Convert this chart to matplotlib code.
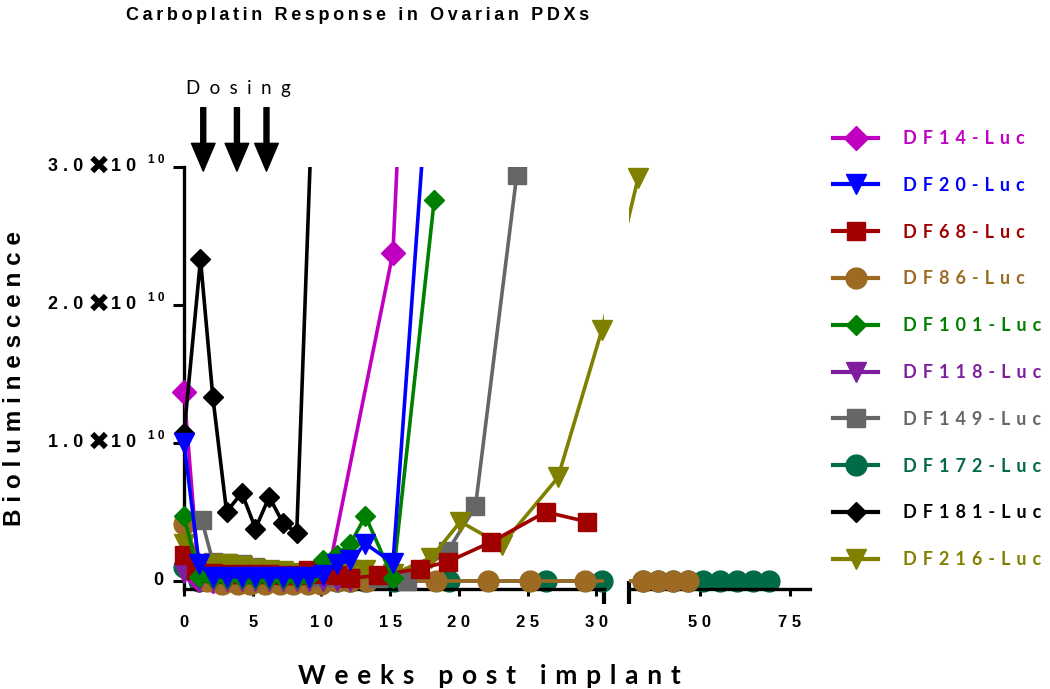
import matplotlib.pyplot as plt
from matplotlib.lines import Line2D
from matplotlib.patches import Rectangle

# values in units of 1e10 (bioluminescence), x in weeks post implant
names = ["DF14-Luc", "DF20-Luc", "DF68-Luc", "DF86-Luc", "DF101-Luc",
         "DF118-Luc", "DF149-Luc", "DF172-Luc", "DF181-Luc", "DF216-Luc"]
colors = ["#C000C0", "#0000FF", "#A00000", "#9C6A22", "#008000",
          "#7F1FA0", "#666666", "#006B45", "#000000", "#808000"]
markers = ["D", "v", "s", "o", "D", "v", "s", "o", "D", "v"]
msizes = [12, 14, 13, 15, 10, 14, 13, 15, 10, 14]
zorders = [2.8, 10, 6, 3, 7, 5, 4, 2, 9, 4.5]

df14_x = [0, 1.1, 2.1, 3.1, 4.2, 5.2, 6.2, 7.2, 8.2, 9.1, 10.5, 15.2, 16.0]
df14_y = [1.37, 0.01, 0.0, 0.0, 0.0, 0.0, 0.0, 0.0, 0.0, 0.01, 0.06, 2.38, 4.1]

df20_x = [0, 1.1, 2.1, 3.1, 4.2, 5.2, 6.2, 7.2, 8.2, 9.1, 10.1, 11.1, 12.1, 13.2, 15.2, 17.5]
df20_y = [1.0, 0.12, 0.03, 0.03, 0.03, 0.03, 0.03, 0.03, 0.03, 0.03, 0.04, 0.12, 0.15, 0.27, 0.13, 3.3]

df68_x = [0, 0.9, 2.1, 3.1, 4.2, 5.2, 6.2, 7.2, 8.2, 9.0, 10.1, 11.1, 12.1, 14.1, 17.2, 19.2, 22.3, 26.3, 29.3]
df68_y = [0.19, 0.08, 0.06, 0.05, 0.05, 0.05, 0.05, 0.04, 0.04, 0.08, 0.05, 0.04, 0.02, 0.04, 0.09, 0.14, 0.28, 0.50, 0.43]

df86_x = [0, 1.7, 2.8, 3.9, 4.8, 5.9, 7.0, 7.9, 9.0, 10.0, 11.1, 12.1, 13.3, 18.3, 22.1, 25.2, 29.2,
          34.2, 38.4, 42.5, 46.7]
df86_y = [0.41, 0.0, -0.02, -0.02, -0.02, -0.02, -0.02, -0.02, -0.02, -0.02, 0.0, 0.0, 0.0, 0.0, 0.0, 0.0, 0.0,
          0.0, 0.0, 0.0, 0.0]

df101_x = [0, 1.1, 2.1, 3.1, 4.2, 5.2, 6.2, 7.2, 8.2, 9.1, 10.1, 11.1, 12.1, 13.2, 15.2, 18.2]
df101_y = [0.47, 0.03, 0.02, 0.02, 0.02, 0.02, 0.02, 0.02, 0.02, 0.03, 0.15, 0.19, 0.27, 0.47, 0.02, 2.76]

df118_x = [0, 1.1, 2.1, 3.1, 4.2, 5.2, 6.2, 7.2, 8.2, 9.1, 10.1, 11.1, 12.1]
df118_y = [0.06, 0.0, 0.0, 0.0, 0.0, 0.0, 0.0, 0.0, 0.0, 0.0, 0.0, 0.0, 0.0]

df149_x = [1.3, 2.1, 3.1, 4.2, 5.2, 6.2, 7.2, 8.2, 10.1, 12.1, 14.1, 16.2, 19.2, 21.2, 24.2]
df149_y = [0.44, 0.14, 0.13, 0.12, 0.10, 0.07, 0.05, 0.04, 0.03, 0.03, 0.02, 0.0, 0.22, 0.54, 2.94]

df172_x = [0, 1.1, 2.1, 3.1, 4.2, 5.2, 6.2, 7.3, 8.2, 9.1, 10.1, 11.1, 12.1, 13.2, 15.3, 19.3, 26.3, 30.4,
           34.2, 38.4, 42.5, 46.7, 50.8, 55.6, 60.3, 64.6, 69.3]
df172_y = [0.1, 0.0, 0.0, 0.0, 0.0, 0.0, 0.0, 0.0, 0.0, 0.0, 0.0, 0.0, 0.0, 0.0, 0.0, 0.0, 0.0, 0.0,
           0.0, 0.0, 0.0, 0.0, 0.0, 0.0, 0.0, 0.0, 0.0]

df181_x = [0, 1.2, 2.1, 3.1, 4.2, 5.2, 6.2, 7.2, 8.2, 10.0]
df181_y = [1.07, 2.33, 1.33, 0.50, 0.64, 0.38, 0.61, 0.42, 0.35, 5.3]

df216_x = [0, 2.1, 3.1, 4.2, 5.2, 6.2, 7.2, 8.2, 10.1, 12.1, 13.2, 15.2, 18.0, 20.1, 23.1, 27.2, 30.4, 32.8]
df216_y = [0.27, 0.12, 0.12, 0.11, 0.09, 0.08, 0.07, 0.06, 0.05, 0.08, 0.08, 0.05, 0.17, 0.43, 0.26, 0.75, 1.82, 2.92]

series_x = [df14_x, df20_x, df68_x, df86_x, df101_x, df118_x, df149_x, df172_x, df181_x, df216_x]
series_y = [df14_y, df20_y, df68_y, df86_y, df101_y, df118_y, df149_y, df172_y, df181_y, df216_y]

dosing_weeks = [1.4, 3.85, 6.0]
ticks_seg1 = [0, 5, 10, 15, 20, 25, 30]
ticks_seg2 = [50, 75]
yticks = [1, 2, 3]

# two x segments (broken axis), pixel layout of the figure
seg1_lim = (0, 30.55)
seg2_lim = (30.28, 80.56)
seg1_px = (184, 604)
seg2_px = (629, 810)


def spaced(s, sep=" "):
    return sep.join(s)


def to_px(x):
    # position along the broken axis, in figure pixels
    if x <= seg1_lim[1]:
        return seg1_px[0] + (x - seg1_lim[0]) / (seg1_lim[1] - seg1_lim[0]) * (seg1_px[1] - seg1_px[0])
    return seg2_px[0] + (x - seg2_lim[0]) / (seg2_lim[1] - seg2_lim[0]) * (seg2_px[1] - seg2_px[0])


def from_px(px, lim, span):
    return lim[0] + (px - span[0]) / (span[1] - span[0]) * (lim[1] - lim[0])


bold_font = ["Liberation Sans", "DejaVu Sans"]
soft_font = ["Lato", "DejaVu Sans"]

fig = plt.figure(figsize=(10.5, 6.89), dpi=100)
H = 689
ax1 = fig.add_axes([seg1_px[0] / 1050, 1 - 589 / H, (seg1_px[1] - seg1_px[0]) / 1050, 422 / H])
ax2 = fig.add_axes([seg2_px[0] / 1050, 1 - 589 / H, (seg2_px[1] - seg2_px[0]) / 1050, 422 / H])

ax1.set_xlim(*seg1_lim)
ax2.set_xlim(*seg2_lim)
for ax in (ax1, ax2):
    ax.set_ylim(-0.058, 3.0)
    ax.spines["top"].set_visible(False)
    ax.spines["right"].set_visible(False)
    ax.spines["bottom"].set_linewidth(2.4)
    ax.spines["left"].set_linewidth(2.4)
    ax.tick_params(axis="x", length=5, width=2.2, pad=14, labelsize=12)
    ax.patch.set_alpha(0)

ax2.spines["left"].set_visible(False)
ax2.tick_params(axis="y", left=False, labelleft=False)
ax1.tick_params(axis="y", length=8, width=2.2, labelleft=False)
ax1.set_yticks([0] + yticks)

ax1.set_xticks(ticks_seg1)
ax1.set_xticklabels([spaced(str(t)) for t in ticks_seg1], fontweight="bold", family=bold_font)
ax2.set_xticks(ticks_seg2)
ax2.set_xticklabels([spaced(str(t)) for t in ticks_seg2], fontweight="bold", family=bold_font)

# break marks at segment ends
for ax, xa in ((ax1, 1.0), (ax2, 0.0)):
    ax.plot([xa, xa], [-0.035, 0.02], transform=ax.transAxes, color="black",
            lw=3, clip_on=False, solid_capstyle="butt")

# lines are drawn straight across the gap and clipped to each segment;
# markers may spill past the sides but not past the top
for k, (ax, lim, span) in enumerate(((ax1, seg1_lim, seg1_px), (ax2, seg2_lim, seg2_px))):
    clip = Rectangle((-0.08, -0.2), 1.16, 1.2, transform=ax.transAxes, fill=False, visible=False)
    ax.add_patch(clip)
    for i in range(len(names)):
        xs = [from_px(to_px(x), lim, span) for x in series_x[i]]
        ax.plot(xs, series_y[i], color=colors[i], lw=2.6, zorder=zorders[i])
        pts = [(x, y) for x, y in zip(series_x[i], series_y[i]) if (x <= seg1_lim[1]) == (k == 0)]
        if not pts:
            continue
        m, = ax.plot([p[0] for p in pts], [p[1] for p in pts], ls="none", marker=markers[i],
                     ms=msizes[i], color=colors[i], zorder=zorders[i] + 0.05)
        m.set_clip_path(clip)

handles = [Line2D([], [], color=colors[i], lw=3, marker=markers[i], ms=msizes[i],
                  label=spaced(names[i], "\u2004")) for i in range(len(names))]
fig.legend(handles=handles, loc="upper left", bbox_to_anchor=(833 / 1050, 1 - 130 / H),
           frameon=False, borderpad=0, borderaxespad=0, handlelength=2.5, handletextpad=1.4,
           labelspacing=1.65, labelcolor="linecolor",
           prop={"family": soft_font, "weight": "bold", "size": 13})

# y tick labels in the style "3.0 x 10^10"
ytr = ax1.get_yaxis_transform()


def axfrac(px):
    return (px - seg1_px[0]) / (seg1_px[1] - seg1_px[0])


for v in yticks:
    ax1.text(axfrac(83), v, spaced(f"{v}.0"), transform=ytr, ha="right", va="center",
             fontsize=13, fontweight="bold", family=bold_font)
    ax1.text(axfrac(99), v, "✖", transform=ytr, ha="center", va="center",
             fontsize=19, fontweight="bold", family=["DejaVu Sans"])
    ax1.text(axfrac(111), v, spaced("10"), transform=ytr, ha="left", va="center",
             fontsize=13, fontweight="bold", family=bold_font)
    ax1.text(axfrac(148), v + 0.05, spaced("10"), transform=ytr, ha="left", va="center",
             fontsize=8.5, fontweight="bold", family=bold_font)
ax1.text(axfrac(163), 0, "0", transform=ytr, ha="right", va="center", fontsize=13,
         fontweight="bold", family=bold_font)

# dosing arrows
for w in dosing_weeks:
    ax1.annotate("", xy=(w, 2.97), xytext=(w, 3.43), annotation_clip=False,
                 arrowprops=dict(facecolor="black", edgecolor="black", width=3.6,
                                 headwidth=17, headlength=20))
ax1.text(3.95, 3.57, spaced("Dosing", "\u2002"), ha="center", va="center", fontsize=13.5,
         family=soft_font, clip_on=False)

fig.text(358 / 1050, 1 - 16 / H, spaced("Carboplatin Response in Ovarian PDXs", "\u2009"),
         ha="center", va="center", fontsize=13, fontweight="bold", family=bold_font)
fig.text(15 / 1050, 1 - 378 / H, spaced("Bioluminescence"), rotation=90, ha="center",
         va="center", fontsize=17.5, fontweight="bold", family=bold_font)
fig.text(489 / 1050, 1 - 676 / H, spaced("Weeks post implant", "\u2004"), ha="center",
         va="center", fontsize=19, fontweight="bold", family=soft_font)

fig.savefig("out.png", dpi=100)
